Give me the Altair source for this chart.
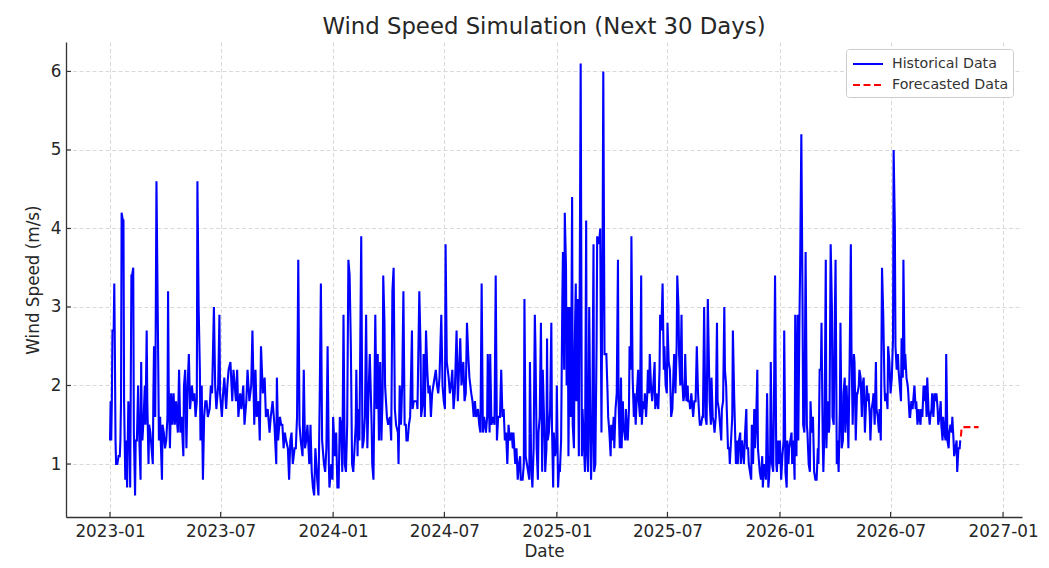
import altair as alt
import pandas as pd

START = "2023-01-01"
SERIES = ["Historical Data", "Forecasted Data"]

# (day offset from 2023-01-01, wind speed m/s)
seg_2023_a = [(0,1.3),(1,1.8),(2,1.3),(3,1.8),(4,2.7),(6,2.7),(7,3.3),(8,2.4),(9,1.3),(10,1.0),(12,1.0),(14,1.1),(16,1.1),(17,1.3),(18,1.8),(19,4.2),(21,4.1),(22,4.1),(23,1.8),(25,0.8),(26,1.3),(28,0.7),(30,1.8),(32,1.4),(33,0.7),(35,3.4),(36,3.4),(38,3.5),(39,1.4),(41,0.6),(42,1.3),(44,1.3),(46,2.0),(48,1.3),(50,0.8),(51,2.3),(52,1.4),(53,1.3),(55,1.6),(57,2.0),(58,1.5),(60,2.7),(61,1.8),(63,1.0),(64,1.5),(66,1.4),(68,1.2),(70,1.0),(71,1.9),(72,2.5),(74,1.6),(76,4.6),(78,3.0),(79,2.2),(80,1.3),(82,1.6),(83,1.3),(85,0.8),(86,1.5),(88,1.4),(90,1.2),(92,1.3),(94,1.6),(95,3.2),(96,2.0),(98,1.2),(100,1.9),(102,1.5),(104,1.9),(106,1.5),(108,1.8),(110,1.5),(111,1.4),(113,2.2),(115,1.4),(117,1.6),(120,1.1),(121,2.0),(123,2.2),(125,1.2),(127,2.0),(129,2.4),(131,1.7),(134,2.0),(136,1.8),(138,1.9),(140,1.6),(142,1.8),(143,4.6),(145,3.0),(147,2.2),(148,1.3),(150,2.0),(152,0.8),(154,1.6),(156,1.8),(158,1.8),(160,1.6),(163,1.7),(165,2.0),(167,1.9),(170,3.0),(172,2.0),(174,1.7),(177,2.0),(179,2.9),(180,1.9),(183,1.6),(185,1.9),(187,2.1),(190,1.7),(192,2.0),(194,2.2),(197,2.3),(200,1.8),(202,2.2),(206,1.8),(208,2.2),(210,1.6),(213,1.9),(215,1.7),(218,2.0),(220,1.5),(223,1.8),(225,2.2),(228,1.8),(231,2.0)]
seg_2023_b = [(233,2.7),(236,1.5),(238,2.2),(240,1.6),(243,1.8),(245,1.3),(247,2.5),(250,1.9),(253,2.1),(255,1.6),(258,1.7),(261,1.4),(263,1.6),(266,1.8),(269,1.5),(272,1.0),(273,2.1),(275,1.3),(278,1.6),(280,1.5),(282,1.5),(284,1.2),(286,1.4),(288,1.3),(291,1.2),(293,0.8),(295,1.3),(297,1.4),(299,1.0),(302,1.2),(304,1.2),(306,1.6),(308,3.6),(310,1.5),(312,1.3),(315,1.1),(317,2.2),(319,1.2),(321,1.3),(323,1.5),(326,1.0),(328,1.5),(330,0.9),(332,0.7),(334,0.6),(336,1.2),(339,0.8),(341,0.6),(343,1.8),(345,3.3),(347,1.3),(350,1.0),(352,0.9),(354,1.2),(356,2.5),(358,1.0),(359,0.7),(362,1.0),(364,0.8),(365,1.6),(368,1.1),(370,1.4),(372,0.7),(374,0.7),(376,1.6),(378,1.5),(380,0.9),(382,2.9),(384,1.0),(386,0.9),(388,1.5),(390,3.6),(392,3.4),(394,2.5),(396,1.0),(398,0.9),(400,1.2),(402,1.5),(403,2.2),(405,1.1),(406,1.7),(408,1.3),(411,3.9),(413,1.2),(415,1.3),(417,1.6),(419,2.9),(421,1.2),(423,1.9),(425,2.4),(428,1.5),(429,1.0),(431,0.8),(434,2.9),(436,1.7),(438,2.4),(440,1.3),(442,2.3),(444,1.3),(446,1.9),(447,3.4),(449,2.8),(450,2.0),(453,1.6),(455,1.5),(458,1.6),(460,1.3)]
seg_2024 = [(462,3.2),(464,3.5),(466,1.7),(468,1.5),(471,1.4),(472,1.0),(474,2.0),(476,1.5),(478,2.0),(480,3.2),(482,1.5),(484,1.5),(485,1.3),(487,1.3),(489,1.5),(491,1.6),(494,2.7),(495,1.7),(497,1.8),(500,1.8),(502,1.8),(503,1.7),(506,3.2),(508,2.5),(509,1.6),(512,1.8),(513,2.4),(515,1.6),(517,2.7),(519,2.2),(521,1.9),(523,2.0),(525,1.6),(527,1.9),(529,2.0),(531,2.1),(533,2.2),(535,2.0),(537,1.9),(539,2.1),(542,2.9),(544,2.0),(546,1.8),(548,1.7),(549,3.8),(551,2.3),(554,2.1),(556,1.9),(558,2.0),(560,2.2),(562,1.7),(564,1.9),(567,2.7),(569,1.8),(571,2.2),(573,2.6),(575,2.0),(578,2.3),(580,1.8),(582,1.9),(584,2.8),(586,2.4),(588,2.1),(591,1.9),(593,1.8),(595,1.6),(597,1.8),(599,1.6),(602,1.7),(604,1.5),(606,1.4),(608,3.3),(610,1.4),(612,1.6),(615,1.4),(617,1.6),(618,2.4),(621,1.4),(622,2.4),(624,1.5),(627,1.6),(629,1.5),(631,3.4),(633,1.3),(635,1.6),(638,1.6),(640,2.2),(642,1.6),(644,1.7),(646,1.3),(648,1.4),(650,1.0),(652,1.5),(654,1.3),(657,1.4),(659,1.2),(660,1.4),(663,1.0),(665,1.2),(667,0.8),(669,1.0),(671,1.1),(672,0.8),(675,0.8),(677,1.0),(678,3.1),(680,1.1),(682,1.0),(684,0.9),(686,0.8),(687,2.3),(689,1.0)]
seg_2025_a = [(691,0.7),(693,1.2),(695,2.9),(696,2.5),(698,1.2),(700,0.8),(701,1.4),(703,1.6),(705,2.8),(707,0.9),(708,2.2),(711,1.3),(712,0.9),(714,1.2),(715,2.6),(716,1.3),(718,1.4),(720,1.7),(722,2.8),(723,1.5),(725,0.7),(726,1.4),(728,1.1),(730,1.2),(731,2.0),(733,0.7),(735,1.0),(736,0.9),(738,1.3),(740,3.1),(741,3.7),(743,2.2),(744,4.2),(746,3.5),(747,2.0),(749,3.0),(750,1.1),(752,3.0),(754,1.6),(756,4.4),(757,1.5),(759,1.2),(760,2.4),(762,3.3),(763,1.8),(765,3.1),(767,1.1),(768,2.5),(770,6.1),(772,1.1),(773,1.7),(775,1.3),(777,0.9),(779,4.1),(780,1.2),(782,0.9),(784,3.0),(786,1.3),(787,0.8),(789,1.5),(791,3.8),(792,0.9),(794,1.0),(796,2.5),(797,3.9),(799,3.8),(801,3.9),(802,4.0),(804,1.4),(806,4.0),(807,6.0),(809,2.4),(810,2.4),(812,2.4),(814,1.9),(815,1.6),(817,1.4),(819,1.1),(820,1.5),(822,1.3),(824,1.6),(825,1.2),(827,1.7),(829,1.9),(831,3.6),(832,1.8),(834,1.2),(836,2.1),(837,1.2),(839,1.8),(840,1.5),(843,1.3),(844,1.7),(846,1.4),(847,1.3),(849,1.7),(850,2.5),(852,2.2),(853,3.9),(855,2.1),(857,1.6),(858,1.9),(860,1.5),(862,1.9),(864,2.2),(865,1.8),(867,1.6),(869,3.4),(870,1.5),(872,1.8),(874,1.7),(875,1.9),(877,1.6),(879,1.9),(880,2.2),(882,1.9),(883,2.4),(885,2.0),(887,1.8),(888,1.9),(891,2.3),(892,1.7),(894,1.9),(895,1.8),(897,1.7),(899,2.2),(900,2.9),(902,2.7),(904,3.3),(906,2.2),(907,2.5),(909,2.0),(911,1.9),(912,2.8),(914,2.3),(916,2.2),(918,1.6)]
seg_2025_b = [(920,1.7),(922,2.2),(923,2.4),(925,1.9),(927,2.5),(928,3.4),(930,3.0),(931,2.4),(933,2.0),(935,2.9),(936,2.1),(938,1.8),(940,1.9),(941,2.4),(943,1.8),(945,2.0),(946,1.8),(948,1.8),(949,1.7),(951,1.9),(953,1.7),(954,1.6),(956,1.8),(958,1.8),(960,2.5),(962,1.9),(964,1.6),(965,1.5),(967,1.5),(969,1.6),(970,1.6),(972,3.0),(974,1.6),(976,1.5),(978,3.1),(980,2.2),(981,1.8),(983,1.5),(984,2.1),(986,1.6),(988,1.5),(989,1.4),(991,1.6),(993,2.8),(994,1.8),(996,1.7),(998,1.5),(1000,1.3),(1001,1.7),(1003,1.8),(1005,3.0),(1006,2.2),(1008,2.0),(1009,1.7),(1011,1.2),(1013,1.2),(1014,1.0),(1016,1.3),(1018,1.6),(1019,2.7),(1021,1.9),(1023,1.3),(1024,1.0),(1026,1.3),(1027,1.0),(1029,1.3),(1031,1.4),(1032,1.0),(1034,1.3),(1036,1.1),(1037,1.0),(1039,1.4),(1041,1.7),(1042,1.2),(1044,1.2),(1045,1.0),(1047,0.9),(1049,0.8),(1050,1.5),(1052,1.0),(1054,1.7),(1055,1.2),(1057,1.5),(1059,2.2),(1060,1.2),(1062,1.0),(1063,0.9),(1065,0.8),(1067,1.1),(1068,0.7),(1070,1.0),(1072,0.9),(1073,0.8),(1075,1.9),(1077,0.7),(1078,0.8),(1080,1.1),(1081,2.3),(1083,1.0),(1085,0.9),(1086,1.6),(1088,3.4),(1090,1.0),(1091,0.9),(1093,1.3),(1095,1.0),(1096,1.3),(1098,0.8),(1100,1.1),(1102,1.3),(1103,2.7),(1105,0.9),(1107,0.7),(1108,1.3),(1110,1.0),(1111,1.2),(1113,1.3),(1115,1.4),(1116,1.0),(1118,1.3),(1120,0.8),(1121,2.9),(1123,1.1),(1125,2.9),(1126,1.3),(1128,2.9),(1129,3.5),(1131,5.2),(1133,3.0),(1134,1.5),(1136,1.4),(1138,3.7),(1140,1.5),(1141,1.4),(1143,1.0),(1145,0.9),(1146,1.8)]
seg_2026 = [(1148,1.4),(1150,1.6),(1152,0.9),(1154,0.8),(1156,0.8),(1158,1.2),(1159,1.0),(1161,2.2),(1163,2.2),(1164,2.8),(1166,1.3),(1167,0.9),(1169,1.5),(1171,3.6),(1172,1.2),(1174,1.8),(1176,1.4),(1177,1.5),(1179,3.8),(1181,3.0),(1182,1.6),(1184,1.5),(1185,2.4),(1187,3.6),(1189,1.0),(1190,1.3),(1192,0.9),(1194,1.7),(1195,2.8),(1197,1.2),(1199,1.3),(1200,1.9),(1202,2.1),(1203,1.4),(1205,2.0),(1207,1.5),(1208,1.2),(1210,2.3),(1212,3.8),(1213,2.5),(1215,1.5),(1217,2.4),(1218,2.3),(1220,1.3),(1222,1.9),(1223,1.9),(1225,2.0),(1226,2.2),(1228,2.1),(1230,1.6),(1231,2.0),(1233,2.1),(1235,1.4),(1236,1.6),(1238,2.0),(1240,1.8),(1241,1.9),(1243,1.6),(1244,1.3),(1246,1.7),(1248,1.8),(1249,1.9),(1251,1.5),(1253,2.3),(1254,1.7),(1256,1.6),(1258,1.4),(1259,1.7),(1261,1.3),(1263,3.5),(1265,2.9),(1267,2.0),(1268,1.8),(1270,1.9),(1272,1.7),(1273,2.5),(1275,2.3),(1277,1.9),(1279,2.1),(1281,2.6),(1282,5.0),(1284,4.0),(1285,2.5),(1287,2.2),(1289,2.4),(1290,2.2),(1292,2.0),(1294,1.8),(1295,2.6),(1297,2.1),(1298,3.6),(1300,2.2),(1301,2.4),(1303,2.1),(1305,2.0),(1306,1.9),(1308,1.6),(1309,1.6),(1311,1.8),(1313,1.7),(1314,1.8),(1316,2.0),(1318,1.7),(1319,1.8),(1321,1.5),(1323,1.7),(1324,1.6),(1326,1.5),(1327,1.7),(1329,1.6),(1331,2.0),(1332,1.8),(1334,2.0),(1336,1.6),(1337,2.1),(1339,1.7),(1341,1.5),(1342,1.6),(1344,1.7),(1345,1.9),(1347,1.6),(1349,1.9),(1350,1.8),(1352,1.9),(1354,1.7),(1355,1.5),(1357,1.6),(1359,1.8),(1360,1.5),(1362,1.3),(1363,1.6),(1365,1.4),(1367,1.3),(1368,2.4),(1370,1.3),(1372,1.2),(1373,1.4),(1375,1.5),(1377,1.4),(1378,1.6),(1380,1.3),(1381,1.1),(1383,1.2),(1385,1.3),(1386,0.9),(1388,1.2),(1390,1.2),(1391,1.3)]

forecast_days = list(range(1392, 1422))
forecast_speed = [1.35, 1.44, 1.46, 1.47, 1.47, 1.47, 1.47, 1.47, 1.47, 1.47,
                  1.47, 1.47, 1.47, 1.47, 1.47, 1.47, 1.47, 1.47, 1.47, 1.47,
                  1.47, 1.47, 1.47, 1.47, 1.47, 1.47, 1.47, 1.47, 1.47, 1.47]

x_tick_dates = ["2023-01-01", "2023-07-01", "2024-01-01", "2024-07-01", "2025-01-01",
                "2025-07-01", "2026-01-01", "2026-07-01", "2027-01-01"]
y_tick_values = [1, 2, 3, 4, 5, 6]

# ---- build tables
hist = seg_2023_a + seg_2023_b + seg_2024 + seg_2025_a + seg_2025_b + seg_2026
df_h = pd.DataFrame(hist, columns=["day", "speed"])
df_h["series"] = SERIES[0]
df_f = pd.DataFrame({"day": forecast_days, "speed": forecast_speed})
df_f["series"] = SERIES[1]
df = pd.concat([df_h, df_f], ignore_index=True)
df["date"] = (pd.Timestamp(START) + pd.to_timedelta(df["day"], unit="D")).dt.strftime("%Y-%m-%d")
df = df[["date", "speed", "series"]]

xticks_df = pd.DataFrame({"date": x_tick_dates})
yticks_df = pd.DataFrame({"speed": y_tick_values})

W, H = 956, 475
FONT = "DejaVu Sans"
TXT = "#262626"

x_enc = alt.X(
    "date:T",
    title="Date",
    scale=alt.Scale(type="utc",
                    domain=[alt.DateTime(year=2022, month=10, date=21, utc=True),
                            alt.DateTime(year=2027, month=2, date=1, utc=True)]),
    axis=alt.Axis(values=[alt.DateTime(year=int(d[:4]), month=int(d[5:7]), date=1, utc=True) for d in x_tick_dates],
                  labelExpr="utcFormat(datum.value, '%Y-%m')", labelPadding=6, titlePadding=4,
                  labelAngle=0),
)
y_enc = alt.Y(
    "speed:Q",
    title="Wind Speed (m/s)",
    scale=alt.Scale(domain=[0.325, 6.375], nice=False, zero=False),
    axis=alt.Axis(values=y_tick_values, format="d", labelPadding=5, titlePadding=8),
)

lines = alt.Chart(df).mark_line(strokeWidth=2.1, clip=True).encode(
    x=x_enc,
    y=y_enc,
    color=alt.Color("series:N", scale=alt.Scale(domain=SERIES, range=["#0000ff", "#ff0000"]),
                    legend=alt.Legend(title=None)),
    strokeDash=alt.StrokeDash("series:N", scale=alt.Scale(domain=SERIES, range=[[1, 0], [7, 3.5]]),
                              legend=alt.Legend(title=None)),
)

xticks = alt.Chart(xticks_df).mark_rule(color="#333333", strokeWidth=1.2).encode(
    x=x_enc, y=alt.value(H - 5), y2=alt.value(H)
)
yticks = alt.Chart(yticks_df).mark_rule(color="#333333", strokeWidth=1.2).encode(
    y=y_enc, x=alt.value(0), x2=alt.value(5)
)

chart = (
    alt.layer(lines, xticks, yticks)
    .properties(
        width=W, height=H,
        title=alt.TitleParams("Wind Speed Simulation (Next 30 Days)"),
        autosize=alt.AutoSizeParams(type="none"),
        padding={"left": 58, "top": 34, "right": 19, "bottom": 50},
        background="white",
    )
    .configure_view(strokeWidth=0)
    .configure_axis(
        labelFont=FONT, labelFontSize=16.8, labelColor=TXT,
        titleFont=FONT, titleFontSize=16.8, titleFontWeight="normal", titleColor=TXT,
        domainColor="#333333", domainWidth=1.3,
        ticks=False, tickSize=0,
        grid=True, gridColor="#cfcfcf", gridDash=[4, 2.5], gridWidth=0.8,
    )
    .configure_title(font=FONT, fontSize=22.8, fontWeight="normal", color=TXT,
                     anchor="middle", frame="group", offset=3)
    .configure_legend(
        orient="none", legendX=780, legendY=7, padding=4,
        strokeColor="#cccccc", fillColor="white", cornerRadius=3,
        labelFont=FONT, labelFontSize=14.2, labelColor="#333333",
        symbolType="M-1.5,0H1.5", symbolSize=400, symbolStrokeWidth=2,
        symbolOffset=7, labelOffset=13, rowPadding=2,
    )
)

chart.save("out.html", embed_options={"renderer": "svg", "actions": False})
